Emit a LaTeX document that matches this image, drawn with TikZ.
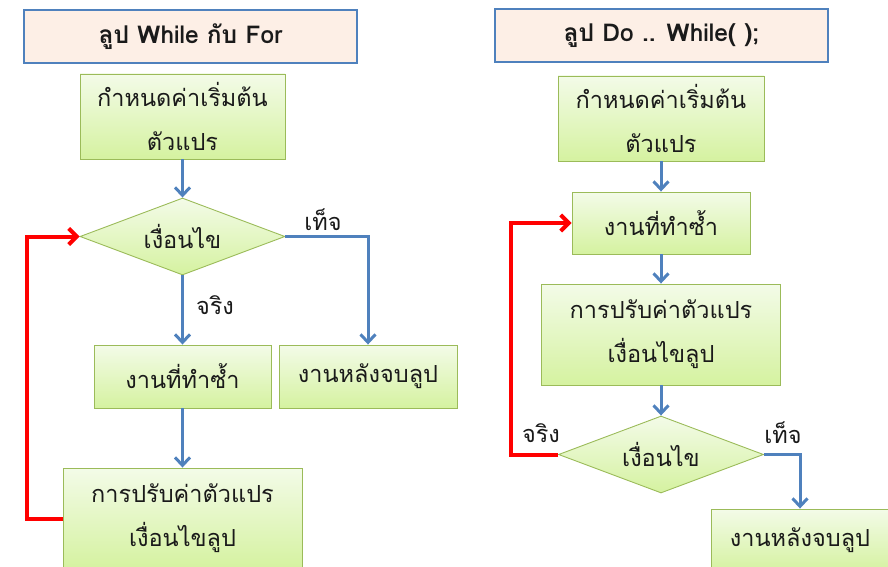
\documentclass[tikz,border=0pt]{standalone}
\usepackage{fontspec}
\newfontfamily\thai[Script=Thai]{Loma}
\usetikzlibrary{shapes.geometric,arrows.meta}
\definecolor{boxedge}{HTML}{9BBB59}
\definecolor{boxtop}{HTML}{F3FBE8}
\definecolor{boxbot}{HTML}{D5F2A0}
\definecolor{ttlfill}{HTML}{FDEFE6}
\definecolor{ttledge}{HTML}{4F81BD}
\definecolor{flowblue}{HTML}{4F81BD}
\definecolor{txt}{HTML}{1A1A1A}
\begin{document}
\begin{tikzpicture}[x=1pt,y=-1pt,
  title/.style={draw=ttledge, line width=2.5pt, fill=ttlfill, minimum width=333pt, minimum height=53pt, inner sep=0pt, font=\thai\bfseries\fontsize{24.5}{28}\selectfont, text=txt},
  stepbox/.style={draw=boxedge, line width=0.9pt, top color=boxtop, bottom color=boxbot, inner sep=0pt, align=center, font=\thai\fontsize{23.5}{44}\selectfont, text=txt},
  decision/.style={diamond, draw=boxedge, line width=0.9pt, top color=boxtop, bottom color=boxbot, minimum width=205pt, minimum height=77pt, aspect=2.66, inner sep=0pt, font=\thai\fontsize{23.5}{28}\selectfont, text=txt},
  lbl/.style={font=\thai\fontsize{23.5}{28}\selectfont, text=txt, inner sep=0pt},
  flow/.style={draw=flowblue, line width=3pt, -{Straight Barb[length=8pt,width=15pt]}},
  back/.style={draw=red, line width=4pt, -{Straight Barb[length=8pt,width=16pt]}}]
\useasboundingbox (0,0) rectangle (888,567);
\clip (0,0) rectangle (888,567);
% left panel
\node[title] (titleL) at (190.5,36.5) {ลูป While กับ For};
\node[stepbox, minimum width=205pt, minimum height=85pt] (initL) at (182.5,116.5) {กำหนดค่าเริ่มต้น\\ตัวแปร};
\node[decision] (condL) at (182.5,236.5) {เงื่อนไข};
\node[stepbox, minimum width=177pt, minimum height=63pt] (bodyL) at (182.5,376.5) {งานที่ทำซ้ำ};
\node[stepbox, minimum width=178pt, minimum height=63pt] (afterL) at (368,376.5) {งานหลังจบลูป};
\node[stepbox, minimum width=239pt, minimum height=101pt] (updL) at (182.5,518.5) {การปรับค่าตัวแปร\\เงื่อนไขลูป};
\node[lbl] (falseL) at (323,220) {เท็จ};
\node[lbl] (trueL) at (215,305) {จริง};
\draw[flow] (initL) -- (condL);
\draw[flow] (condL.south) -- (bodyL);
\draw[flow] (condL.east) -| (afterL.north);
\draw[flow] (bodyL) -- (updL);
\draw[back] (updL.west) -- ++(-36,0) |- (condL.west);
% right panel
\node[title] (titleR) at (661.5,35.5) {ลูป Do .. While( );};
\node[stepbox, minimum width=206pt, minimum height=85pt] (initR) at (661,118.5) {กำหนดค่าเริ่มต้น\\ตัวแปร};
\node[stepbox, minimum width=178pt, minimum height=62pt] (bodyR) at (661,223) {งานที่ทำซ้ำ};
\node[stepbox, minimum width=239pt, minimum height=101pt] (updR) at (661,334.5) {การปรับค่าตัวแปร\\เงื่อนไขลูป};
\node[decision] (condR) at (661,454.5) {เงื่อนไข};
\node[stepbox, minimum width=178pt, minimum height=63pt] (afterR) at (800,540.5) {งานหลังจบลูป};
\node[lbl] (trueR) at (541,433) {จริง};
\node[lbl] (falseR) at (783,433) {เท็จ};
\draw[flow] (initR) -- (bodyR);
\draw[flow] (bodyR) -- (updR);
\draw[flow] (updR) -- (condR);
\draw[back] (condR.west) -- ++(-47,0) |- (bodyR.west);
\draw[flow] (condR.east) -| (afterR.north);
\end{tikzpicture}
\end{document}
